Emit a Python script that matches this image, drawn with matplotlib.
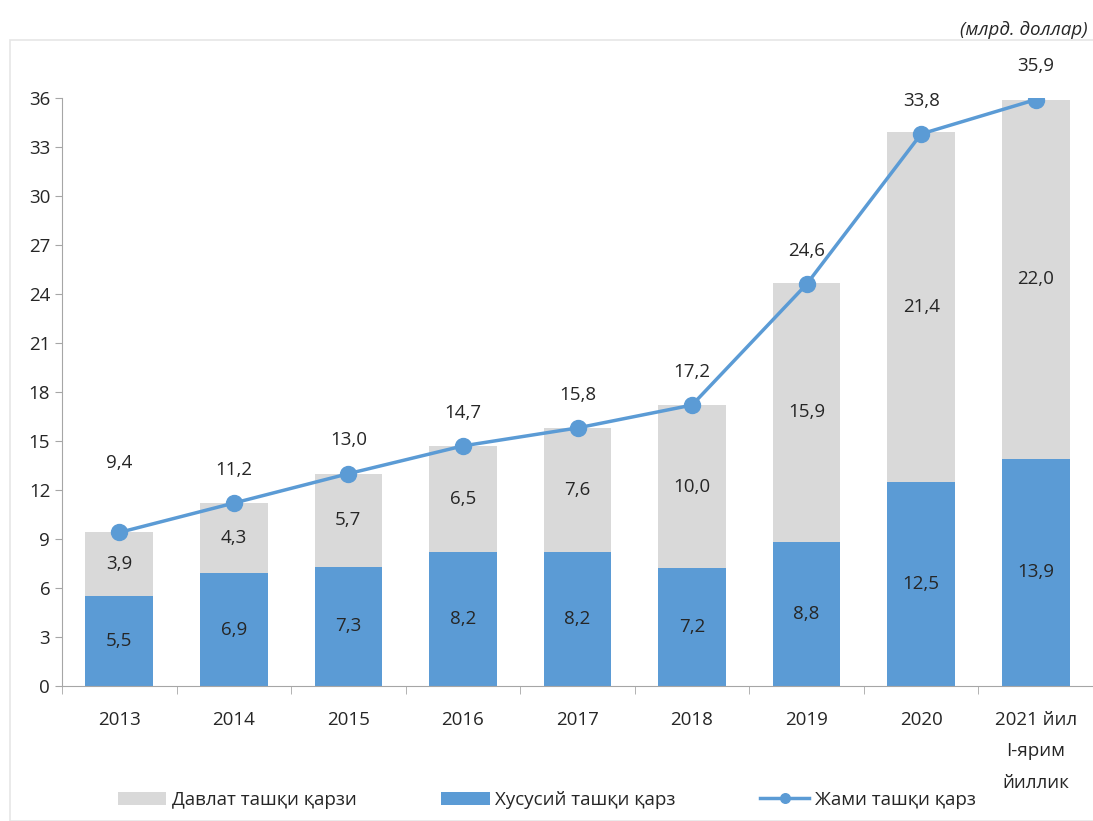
import matplotlib.pyplot as plt
from matplotlib.patches import Rectangle
import numpy as np

plt.rcParams['font.family'] = ['Open Sans', 'DejaVu Sans']

# data (млрд. доллар)
categories = ['2013', '2014', '2015', '2016', '2017', '2018', '2019', '2020',
              '2021 йил\nI-ярим\nйиллик']
private_debt = [5.5, 6.9, 7.3, 8.2, 8.2, 7.2, 8.8, 12.5, 13.9]
state_debt = [3.9, 4.3, 5.7, 6.5, 7.6, 10.0, 15.9, 21.4, 22.0]
total_debt = [9.4, 11.2, 13.0, 14.7, 15.8, 17.2, 24.6, 33.8, 35.9]

blue = '#5B9BD5'
grey = '#D9D9D9'
txt = '#262626'
fs = 13.5

fig = plt.figure(figsize=(10.93, 8.21), dpi=100)
ax = fig.add_axes([62 / 1093, 1 - 686 / 821, 1 - 62 / 1093, 588 / 821])

# light frame round the chart
fig.patches.append(Rectangle((10 / 1093, 0.0), 1.0, 1 - 40 / 821, transform=fig.transFigure,
                             fill=False, edgecolor='#E6E6E6', linewidth=1.2))

x = np.arange(len(categories))
w = 0.59
ax.bar(x, private_debt, w, color=blue, label='Хусусий ташқи қарз', zorder=2)
ax.bar(x, state_debt, w, bottom=private_debt, color=grey, label='Давлат ташқи қарзи', zorder=2)
ax.plot(x, total_debt, color=blue, linewidth=2.5, marker='o', markersize=11.5,
        label='Жами ташқи қарз', zorder=3)

fmt = lambda v: f'{v:.1f}'.replace('.', ',')
for i in range(len(x)):
    ax.text(x[i], private_debt[i] / 2, fmt(private_debt[i]), ha='center', va='center',
            fontsize=fs, color=txt, zorder=4)
    ax.text(x[i], private_debt[i] + state_debt[i] / 2, fmt(state_debt[i]), ha='center',
            va='center', fontsize=fs, color=txt, zorder=4)
    off = 50 if i == 0 else 24
    ax.annotate(fmt(total_debt[i]), (x[i], total_debt[i]), xytext=(0, off),
                textcoords='offset points', ha='center', va='center',
                fontsize=fs, color=txt, zorder=4)

ax.set_ylim(0, 36)
ax.set_yticks(np.arange(0, 37, 3))
ax.set_xlim(-0.5, 8.44)
ax.set_xticks(x)
ax.set_xticklabels(categories, fontsize=fs, color=txt, va='top', linespacing=1.95)
ax.set_xticks(np.arange(-0.5, 9, 1), minor=True)
ax.tick_params(axis='x', which='major', length=0, pad=18)
ax.tick_params(axis='x', which='minor', length=6, color='#A6A6A6')
ax.tick_params(axis='y', labelsize=fs, labelcolor=txt, length=5, color='#A6A6A6')

for s in ['top', 'right']:
    ax.spines[s].set_visible(False)
ax.spines['left'].set_color('#A6A6A6')
ax.spines['bottom'].set_color('#A6A6A6')

handles, labels = ax.get_legend_handles_labels()
idx = {lab: k for k, lab in enumerate(labels)}
order = [idx['Давлат ташқи қарзи'], idx['Хусусий ташқи қарз'], idx['Жами ташқи қарз']]
fig.legend([handles[k] for k in order], [labels[k] for k in order],
           loc='center', bbox_to_anchor=(0.5, 1 - 800 / 821), ncol=3, frameon=False,
           fontsize=fs, handlelength=2.6, columnspacing=4.5, handletextpad=0.3,
           labelcolor=txt, markerscale=0.6)

fig.text(0.995, 1 - 30 / 821, '(млрд. доллар)', ha='right', va='center',
         style='italic', fontsize=fs, color=txt)

fig.savefig('out.png', dpi=100)
